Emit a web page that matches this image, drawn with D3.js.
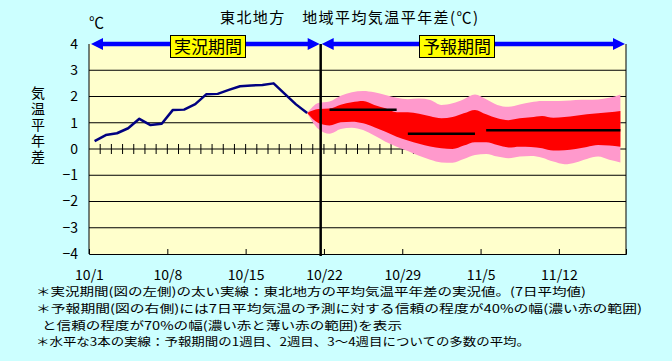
<!DOCTYPE html>
<html>
<head>
<meta charset="utf-8">
<script src="https://cdn.jsdelivr.net/npm/d3@7"></script>
<style>
  body { margin: 0; background: #ccffff; }
  svg { display: block; font-family: "Noto Sans CJK JP", "Noto Sans", sans-serif; }
</style>
</head>
<body>
<svg id="chart" width="672" height="361"></svg>
<script>
// observed 7-day mean anomaly, 10/1 .. 10/20
var obsValues = [0.30, 0.53, 0.60, 0.79, 1.15, 0.91, 0.96, 1.49, 1.50, 1.71,
                 2.09, 2.10, 2.25, 2.39, 2.42, 2.44, 2.50, 2.10, 1.70, 1.37];
// forecast ranges, 10/20 .. 11/17
var pinkUpper = [1.37, 1.75, 1.81, 2.03, 2.16, 2.21, 2.16, 2.06, 1.95, 1.90,
                 1.92, 1.87, 1.68, 1.74, 1.90, 2.08, 1.90, 1.68, 1.61, 1.70,
                 1.78, 1.83, 1.83, 1.84, 1.87, 1.88, 1.89, 1.95, 2.08];
var redUpper  = [1.37, 1.52, 1.54, 1.69, 1.78, 1.83, 1.68, 1.55, 1.40, 1.40,
                 1.34, 1.25, 1.17, 1.22, 1.36, 1.49, 1.32, 1.17, 1.10, 1.17,
                 1.21, 1.26, 1.19, 1.22, 1.27, 1.32, 1.36, 1.40, 1.45];
var redLower  = [1.37, 0.99, 0.90, 1.02, 1.04, 0.98, 0.83, 0.66, 0.47, 0.32,
                 0.20, 0.10, 0.03, 0.00, 0.13, 0.26, 0.26, 0.15, 0.06, 0.09,
                 0.08, 0.03, -0.06, -0.05, 0.00, 0.08, 0.15, 0.13, 0.09];
var pinkLower = [1.37, 0.76, 0.58, 0.76, 0.81, 0.72, 0.51, 0.28, 0.09, -0.08,
                 -0.26, -0.41, -0.51, -0.52, -0.38, -0.23, -0.19, -0.29, -0.35, -0.29,
                 -0.27, -0.33, -0.48, -0.58, -0.51, -0.38, -0.29, -0.41, -0.51];
// week means: 1st week, 2nd week, 3-4th weeks
var weekMeans = [1.50, 0.58, 0.71];
var weekFrom  = ["10/22", "10/29", "11/5"];
var weekTo    = ["10/28", "11/4", "11/17"];

var xTickLabels = ["10/1", "10/8", "10/15", "10/22", "10/29", "11/5", "11/12"];
var yTicks = [-4, -3, -2, -1, 0, 1, 2, 3, 4];

var notes = [
  "＊実況期間(図の左側)の太い実線：東北地方の平均気温平年差の実況値。(7日平均値)",
  "＊予報期間(図の右側)には7日平均気温の予測に対する信頼の程度が40%の幅(濃い赤の範囲)",
  "と信頼の程度が70%の幅(濃い赤と薄い赤の範囲)を表示",
  "＊水平な3本の実線：予報期間の1週目、2週目、3～4週目についての多数の平均。"
];

var YEAR = 2023;
function md(s) { var p = s.split("/"); return new Date(YEAR, +p[0] - 1, +p[1]); }
function noon(d) { return d3.timeHour.offset(d, 12); }

var start = md("10/1"), end = md("11/18");
var obsStart = md("10/1"), fcStart = md("10/20");
var divider = d3.timeHour.offset(md("10/21"), 17);

var svg = d3.select("#chart");
var x = d3.scaleTime().domain([start, end]).range([89, 626]);
var y = d3.scaleLinear().domain([-4, 4]).range([254, 44]);

// plot background
svg.append("rect").attr("x", x(start)).attr("y", y(4))
  .attr("width", x(end) - x(start)).attr("height", y(-4) - y(4))
  .attr("fill", "#ffffcc");

// grid lines
svg.append("g").selectAll("line").data(yTicks.filter(function(d) { return d > -4 && d < 4; }))
  .join("line")
  .attr("x1", x(start)).attr("x2", x(end))
  .attr("y1", function(d) { return y(d); }).attr("y2", function(d) { return y(d); })
  .attr("stroke", "#000").attr("stroke-width", 1);

// daily ticks on the zero line
var dailyTicks = d3.timeDay.range(md("10/2"), md("10/31"));
svg.append("g").selectAll("line").data(dailyTicks).join("line")
  .attr("x1", function(d) { return x(d); }).attr("x2", function(d) { return x(d); })
  .attr("y1", y(0) - 5).attr("y2", y(0) + 5)
  .attr("stroke", "#000").attr("stroke-width", 1);

// forecast bands
var fcDays = pinkUpper.map(function(v, i) { return noon(d3.timeDay.offset(fcStart, i)); });
var band = function(lo, hi) {
  return d3.area()
    .x(function(d, i) { return x(fcDays[i]); })
    .y0(function(d, i) { return y(lo[i]); })
    .y1(function(d, i) { return y(hi[i]); })
    .curve(d3.curveMonotoneX)(fcDays);
};
svg.append("path").attr("d", band(pinkLower, pinkUpper)).attr("fill", "#ff99cc");
svg.append("path").attr("d", band(redLower, redUpper)).attr("fill", "#ff0000");

// week mean lines
svg.append("g").selectAll("line").data(weekMeans).join("line")
  .attr("x1", function(d, i) { return x(noon(md(weekFrom[i]))); })
  .attr("x2", function(d, i) { return x(noon(md(weekTo[i]))); })
  .attr("y1", function(d) { return y(d); }).attr("y2", function(d) { return y(d); })
  .attr("stroke", "#000").attr("stroke-width", 2.5);

// observed line
var obsLine = d3.line()
  .x(function(d, i) { return x(noon(d3.timeDay.offset(obsStart, i))); })
  .y(function(d) { return y(d); });
svg.append("path").attr("d", obsLine(obsValues))
  .attr("fill", "none").attr("stroke", "#000080").attr("stroke-width", 2.5)
  .attr("stroke-linejoin", "round");

// frame: left, right and bottom
svg.append("line").attr("x1", x(start)).attr("x2", x(start)).attr("y1", y(4)).attr("y2", y(-4))
  .attr("stroke", "#000");
svg.append("line").attr("x1", x(end)).attr("x2", x(end)).attr("y1", y(4)).attr("y2", y(-4))
  .attr("stroke", "#000");

// x axis
var xAxis = d3.axisBottom(x)
  .tickValues(xTickLabels.map(md))
  .tickSize(-5).tickPadding(16)
  .tickFormat(function(d, i) { return xTickLabels[i]; });
var gx = svg.append("g").attr("transform", "translate(0," + y(-4) + ")").call(xAxis);
gx.selectAll("text").attr("font-size", 14).attr("font-family", "Noto Sans CJK JP").attr("fill", "#000");

// y axis labels
var yAxis = d3.axisLeft(y).tickValues(yTicks).tickSize(0).tickPadding(11)
  .tickFormat(function(d) { return d < 0 ? "\u2212" + Math.abs(d) : d; });
var gy = svg.append("g").attr("transform", "translate(" + x(start) + ",0)").call(yAxis);
gy.select(".domain").remove();
gy.selectAll("text").attr("font-size", 14).attr("font-family", "Noto Sans CJK JP").attr("fill", "#000");

// divider between observation and forecast
svg.append("line").attr("x1", x(divider)).attr("x2", x(divider))
  .attr("y1", y(4)).attr("y2", y(-4) + 2)
  .attr("stroke", "#000").attr("stroke-width", 2.5);

// period arrows
function arrow(x0, x1) {
  var yy = y(4), g = svg.append("g");
  g.append("line").attr("x1", x0 + 6).attr("x2", x1 - 6).attr("y1", yy).attr("y2", yy)
    .attr("stroke", "#0000ff").attr("stroke-width", 4.5);
  g.append("path").attr("d", "M" + x0 + "," + yy + "l12,-6v12z").attr("fill", "#0000ff");
  g.append("path").attr("d", "M" + x1 + "," + yy + "l-12,-6v12z").attr("fill", "#0000ff");
}
arrow(x(start) + 2, x(divider) - 1);
arrow(x(divider) + 1, x(end) - 1);

function periodBox(cx, label) {
  svg.append("rect").attr("x", cx - 37.5).attr("y", 35.5).attr("width", 75).attr("height", 22)
    .attr("fill", "#ffff00").attr("stroke", "#000").attr("stroke-width", 1);
  svg.append("text").attr("x", cx - 34).attr("y", 52.5).attr("font-size", 17)
    .attr("textLength", 68).attr("lengthAdjust", "spacing").text(label);
}
periodBox(208, "実況期間");
periodBox(457, "予報期間");

// titles
svg.append("text").attr("x", 220).attr("y", 23).attr("font-size", 15)
  .attr("textLength", 258).attr("lengthAdjust", "spacing")
  .text("東北地方　地域平均気温平年差(℃)");
svg.append("text").attr("x", 89).attr("y", 28).attr("font-size", 15).text("℃");

// vertical axis title
svg.append("text")
  .attr("x", 38).attr("y", 86)
  .attr("writing-mode", "vertical-rl")
  .attr("font-size", 14).attr("letter-spacing", 2)
  .text("気温平年差");

// footnotes
var noteX = [36, 36, 42, 36], noteLen = [550, 606, 360, 494];
svg.append("g").selectAll("text").data(notes).join("text")
  .attr("x", function(d, i) { return noteX[i]; })
  .attr("y", function(d, i) { return 296 + i * 16.8; })
  .attr("font-size", 11.5)
  .attr("textLength", function(d, i) { return noteLen[i]; })
  .attr("lengthAdjust", "spacingAndGlyphs")
  .text(function(d) { return d; });
</script>
</body>
</html>
